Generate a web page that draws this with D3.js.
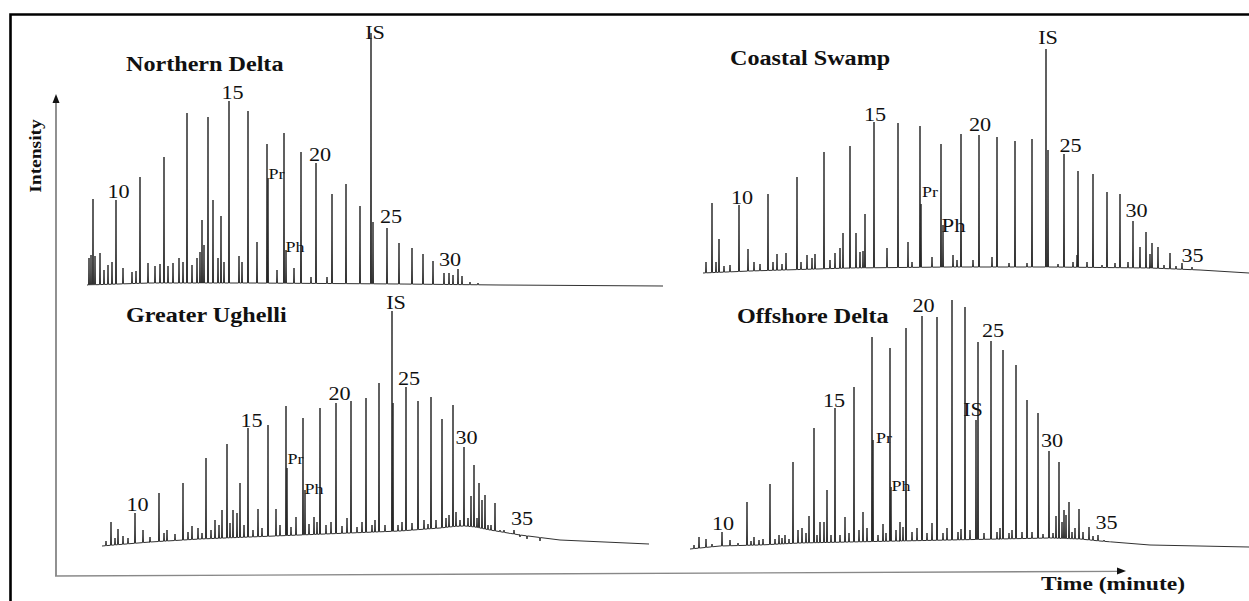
<!DOCTYPE html>
<html>
<head>
<meta charset="utf-8">
<script src="https://cdn.jsdelivr.net/npm/d3@7"></script>
<style>
  html, body { margin: 0; padding: 0; background: #fff; }
  svg { display: block; }
  text { font-family: "Liberation Serif", "Times New Roman", serif; fill: #111; }
</style>
</head>
<body>
<svg id="chart" width="1249" height="601"></svg>
<script>
// ---------------- DATA (retention time in minutes, relative intensity) ----------------
const panelNames = ["Northern Delta", "Coastal Swamp", "Greater Ughelli", "Offshore Delta"];

// Northern Delta
const ndBaseline = [[0,2.5],[6.3,3.5],[16.3,3.5],[31.3,3],[41.3,2.5],[57.6,2]];
const ndPeaks = [
  [0.2,16],[0.4,17.5],[0.6,45.5],[0.8,17],[1.3,18.5],[1.7,10],[2.1,12.5],[2.5,14],[2.9,45],
  [3.6,11],[4.5,9],[4.9,9.5],[5.3,56.5],[6.1,13.5],[6.8,12],[7.3,13],[7.7,66.5],[8.1,12],
  [8.6,13.5],[9.2,16],[9.6,14],[10.0,88.5],[10.5,12.5],[11.0,16],[11.3,19],[11.5,35],[11.7,22.5],
  [12.1,86.5],[12.6,45],[13.1,16],[13.4,37],[13.7,14],[14.2,94.5],[15.2,17],[15.5,14],[16.1,89.5],
  [17.0,24],[18.0,73],[18.1,56],[19.0,10],[19.7,78.5],[19.9,20],[20.7,11],[21.4,69],[22.4,6.5],
  [22.9,63.5],[24.0,6.5],[24.5,48],[25.9,53],[27.3,42],[28.4,128.5],[28.6,34],[30.0,31],
  [31.2,23.5],[32.5,21],[33.6,18],[34.6,14.5],[35.7,8.5],[36.2,8.5],[36.6,7.5],[37.1,10.5],
  [37.5,7],[38.3,4],[39.1,3.5]
];
const ndLabels = [["10",3.15,46],["15",14.55,95.5],["20",23.3,64.5],["25",30.4,33.5],["30",36.3,12],
  ["IS",28.8,125.5],["Pr",18.95,55.5],["Ph",20.8,19]];

// Coastal Swamp
const csBaseline = [[0,3.5],[4.7,4.5],[14.7,6],[24.7,6.5],[34.7,6.5],[44.7,6],[49.7,5],[54.6,3.5]];
const csPeaks = [
  [0.3,9],[0.9,38.5],[1.3,9],[1.6,20.5],[2.1,7],[2.7,7.5],[3.6,37.5],[4.5,15.5],[5.1,9],[5.7,8],
  [6.5,43],[7.0,9],[7.4,13],[7.9,8],[8.3,13.5],[9.4,51.5],[9.8,9],[10.4,12.5],[10.9,11],[11.2,13],
  [12.1,64],[12.7,10],[13.2,13.5],[13.7,16],[14.0,23.5],[14.7,67],[15.3,23.5],[15.7,14],[16.0,14.5],
  [16.2,33],[17.1,79],[18.4,16],[19.5,78.5],[20.5,19],[20.9,9],[21.7,77],[21.8,38],[22.9,11.5],
  [23.8,68],[24.0,27.5],[25.0,12.5],[25.4,10],[25.8,73],[27.0,10],[27.6,72.5],[28.9,11.5],
  [29.4,71.5],[30.6,8.5],[31.2,69.5],[32.4,8.5],[32.9,70.5],[34.3,115.5],[34.5,65],[35.5,8],
  [36.1,63],[37.0,9],[37.4,12.5],[37.5,54.5],[38.4,9],[39.0,53],[39.9,7.5],[40.4,44],[41.2,8.5],
  [41.7,43],[42.5,9],[43.0,29.5],[43.7,16.5],[44.3,24],[44.7,13],[44.9,18.5],[45.5,16.5],
  [46.1,7.5],[46.7,13.5],[47.3,7],[47.9,8.5],[48.9,6.5]
];
const csLabels = [["10",3.9,38],["15",17.2,79.5],["20",27.7,74.5],["25",36.75,64],["30",43.35,31.5],
  ["35",48.95,9],["IS",34.5,118],["Pr",22.7,41.5],["Ph",25.05,24]];

// Greater Ughelli
const guBaseline = [[0,4.5],[4.8,6.5],[9.8,8],[14.8,9],[19.8,10],[24.8,11],[29.8,12],[33.8,13.5],
  [35.3,14.3],[36.3,14.5],[37.3,14],[38.8,12.5],[41.8,10],[45.8,7.5],[54.7,5.5]];
const guPeaks = [
  [0.4,7],[0.9,16.5],[1.3,8.5],[1.6,13],[2.1,9.5],[2.6,8.5],[3.3,21],[4.1,12.5],[4.8,9],[5.7,31],
  [6.2,11],[6.5,12.5],[7.3,10.5],[8.1,36],[8.6,11.5],[9.0,14.5],[9.6,13.5],[10.0,11],[10.4,48.5],
  [10.9,12.5],[11.3,17.5],[11.7,15],[12.0,22.5],[12.5,55.5],[12.8,16],[13.1,22.5],[13.5,21],
  [13.8,36],[14.2,15],[14.6,63.5],[15.1,12.5],[15.6,23],[16.0,13.5],[16.6,65],[17.4,23],[17.8,15],
  [18.4,74.5],[18.5,43.5],[18.9,14],[19.4,19],[20.1,68.5],[20.3,32.5],[20.7,15.5],[21.2,19],
  [21.5,16.5],[21.8,73.5],[22.4,15],[22.9,16.5],[23.4,76],[24.0,14.5],[24.5,18.5],[24.9,77],
  [25.5,14],[26.0,16.5],[26.4,78.5],[27.0,15],[27.3,17.5],[27.7,86],[28.3,15],[29.0,122],[29.1,76],
  [29.6,15],[30.0,16.5],[30.4,84],[31.0,16],[31.6,77],[32.2,17.5],[32.6,15.5],[32.9,79],[33.4,17.5],
  [34.0,68],[34.4,18.5],[34.7,20],[35.1,75],[35.4,21.5],[35.8,17.5],[36.2,54],[36.6,18.5],[36.9,29.5],
  [37.2,45],[37.5,18.5],[37.7,36],[38.0,27.5],[38.3,30],[38.6,15],[38.9,15],[39.3,26],[39.8,12.5],
  [40.2,12.5],[40.8,10.5],[41.2,12.5],[41.8,9],[42.5,8],[43.8,7]
];
const guLabels = [["10",3.55,22],["15",14.95,64],["20",23.75,77.5],["25",30.7,85],["30",36.45,55.5],
  ["35",42,15],["IS",29.4,123],["Pr",19.35,45.5],["Ph",21.2,30.5]];

// Offshore Delta
const odBaseline = [[0,3],[3,4.5],[7,5],[11,6],[16,6.5],[21,7],[26,7.5],[31,8],[36,8.5],[39,8],
  [41,7],[46,5],[55.9,4]];
const odPeaks = [
  [0.4,5],[0.9,9],[1.6,8],[2.2,5.5],[3.2,11.5],[4.0,7.5],[4.8,6],[5.7,26.5],[6.1,7],[6.4,9],[6.9,7.5],
  [7.3,8],[8.0,35.5],[8.5,8],[8.9,10],[9.2,8.5],[9.5,10],[9.9,8],[10.3,46.5],[10.8,12.5],[11.2,13.5],
  [11.6,11],[11.9,19.5],[12.4,63.5],[12.7,10],[13.0,16.5],[13.4,16.5],[13.7,32.5],[14.1,10],
  [14.5,73.5],[15.0,10],[15.5,19],[15.9,11],[16.4,84],[16.9,12.5],[17.3,21.5],[17.7,13.5],
  [18.2,109],[18.3,57.5],[18.8,10],[19.3,15.5],[19.6,11],[20.0,103.5],[20.1,34],[20.6,12.5],
  [21.0,16.5],[21.3,14],[21.6,113.5],[22.2,11.5],[22.7,13.5],[23.2,119.5],[23.7,11],[24.2,16],
  [24.7,119],[25.3,11],[25.7,13.5],[26.2,127.5],[26.8,11.5],[27.1,13],[27.5,124],[28.0,12.5],
  [28.6,67.5],[28.8,106.5],[29.4,11],[30.1,107],[30.7,11.5],[31.0,13.5],[31.3,102.5],[31.9,11],
  [32.2,12.5],[32.6,95],[33.2,11.5],[33.7,77.5],[34.2,11.5],[34.8,71],[35.3,10.5],[35.9,52],
  [36.3,11],[36.6,19.5],[36.9,46.5],[37.2,16.5],[37.4,22.5],[37.6,20],[37.9,26.5],[38.2,11.5],
  [38.5,13.5],[38.9,23],[39.3,11.5],[39.9,14],[40.3,9.5],[40.8,10],[41.4,7.5],[42.0,6.5]
];
const odLabels = [["10",3.3,12.5],["15",14.4,74],["20",23.35,121.5],["25",30.3,109],["30",36.2,54],
  ["35",41.65,13],["IS",28.3,69.5],["Pr",19.4,56],["Ph",21.1,32]];

const axisLabels = ["Intensity", "Time (minute)"];

// ---------------- LAYOUT ----------------
const layout = [
  { base: ndBaseline, peaks: ndPeaks, labels: ndLabels, xr: [87, 663],  tmax: 57.6, yr: [290, 30],  title: [126, 71] },
  { base: csBaseline, peaks: csPeaks, labels: csLabels, xr: [703, 1249], tmax: 54.6, yr: [280, 20],  title: [730, 65] },
  { base: guBaseline, peaks: guPeaks, labels: guLabels, xr: [102, 649], tmax: 54.7, yr: [555, 295], title: [126, 322] },
  { base: odBaseline, peaks: odPeaks, labels: odLabels, xr: [690, 1249], tmax: 55.9, yr: [555, 295], title: [737, 323] }
];
const bigPh = { 1: 19 }; // Coastal Swamp uses a larger "Ph"

const svg = d3.select("#chart");

// outer frame (left + top)
svg.append("path")
  .attr("d", "M10.5,601 L10.5,14.5 L1249,14.5")
  .attr("fill", "none").attr("stroke", "#000").attr("stroke-width", 2.6);

// axes
svg.append("line").attr("x1", 56).attr("y1", 576).attr("x2", 56).attr("y2", 101)
  .attr("stroke", "#555").attr("stroke-width", 1.3);
svg.append("path").attr("d", "M56,94 L52.5,103 L59.5,103 Z").attr("fill", "#111");
svg.append("line").attr("x1", 55).attr("y1", 576).attr("x2", 1118).attr("y2", 571.3)
  .attr("stroke", "#888").attr("stroke-width", 1.3);
svg.append("path").attr("d", "M1126,571 L1117,567.6 L1117,574.6 Z").attr("fill", "#111");

svg.append("text").text(axisLabels[0])
  .attr("transform", "translate(41,156) rotate(-90) scale(1.18,1)")
  .attr("text-anchor", "middle").attr("font-weight", "bold").attr("font-size", 16.5);
svg.append("text").text(axisLabels[1])
  .attr("transform", "translate(1113,590) scale(1.24,1)")
  .attr("text-anchor", "middle").attr("font-weight", "bold").attr("font-size", 19);

const line = d3.line().x(d => d[0]).y(d => d[1]);

layout.forEach((p, i) => {
  const x = d3.scaleLinear().domain([0, p.tmax]).range(p.xr);
  const y = d3.scaleLinear().domain([0, 130]).range(p.yr);
  const baseAt = d3.scaleLinear().domain(p.base.map(d => d[0])).range(p.base.map(d => d[1]));
  const w = 0.05;

  // build the trace: baseline knots + spikes
  const items = [];
  p.base.forEach(d => items.push({ t: d[0], pts: [[d[0], d[1]]] }));
  p.peaks.forEach(d => {
    const t = d[0];
    items.push({ t: t, pts: [[t - w, baseAt(t - w)], [t, d[1]], [t + w, baseAt(t + w)]] });
  });
  items.sort((a, b) => a.t - b.t);
  const pts = [];
  items.forEach(it => it.pts.forEach(q => pts.push([x(q[0]), y(q[1])])));

  const g = svg.append("g");
  g.append("path").attr("d", line(pts))
    .attr("fill", "none").attr("stroke", "#262626").attr("stroke-width", 0.95)
    .attr("stroke-linejoin", "bevel");

  // title
  g.append("text").text(panelNames[i])
    .attr("transform", `translate(${p.title[0]},${p.title[1]}) scale(1.15,1)`)
    .attr("font-weight", "bold").attr("font-size", 21);

  // peak labels
  p.labels.forEach(l => {
    const isAnn = (l[0] === "Pr" || l[0] === "Ph");
    let fs = isAnn ? 15 : 18.5;
    if (l[0] === "Ph" && bigPh[i]) fs = bigPh[i];
    g.append("text").text(l[0])
      .attr("transform", `translate(${x(l[1])},${y(l[2])}) scale(1.2,1)`)
      .attr("text-anchor", "middle").attr("font-size", fs);
  });
});
</script>
</body>
</html>
